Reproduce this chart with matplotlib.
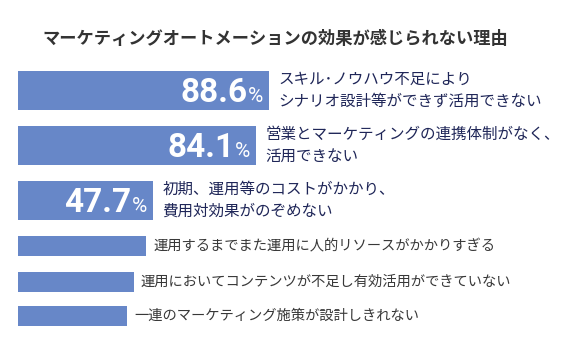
import matplotlib.pyplot as plt

plt.rcParams['font.family'] = ['Noto Sans CJK JP', 'DejaVu Sans']

title = "マーケティングオートメーションの効果が感じられない理由"
reasons = [
    "スキル･ノウハウ不足により\nシナリオ設計等ができず活用できない",
    "営業とマーケティングの連携体制がなく、\n活用できない",
    "初期、運用等のコストがかかり、\n費用対効果がのぞめない",
    "運用するまでまた運用に人的リソースがかかりすぎる",
    "運用においてコンテンツが不足し有効活用ができていない",
    "一連のマーケティング施策が設計しきれない",
]
shares = [88.6, 84.1, 47.7, 45.2, 40.9, 38.5]
show_value = [True, True, True, False, False, False]

BAR_COLOR = "#6787c8"
NAVY = "#1f2658"
GREY = "#383838"

W, H = 563, 342
PX_PER_PCT = 2.835
LEFT = 18

# vertical layout in pixels from the top: tall rows first, then thin rows
row_y = [90.5, 145.5, 200.5, 246, 282, 316]
row_h = [39, 39, 39, 20, 20, 20]

fig = plt.figure(figsize=(W / 100, H / 100), dpi=100)
ax = fig.add_axes([0, 0, 1, 1])
ax.set_xlim(-LEFT / PX_PER_PCT, (W - LEFT) / PX_PER_PCT)
ax.set_ylim(H, 0)
ax.axis("off")

ax.barh(row_y, shares, height=row_h, left=0, color=BAR_COLOR)

px = 1 / PX_PER_PCT
for y, v, label, big in zip(row_y, shares, reasons, show_value):
    if big:
        pct = ax.text(v - 6 * px, y + 11.5, "%", ha="right", va="baseline",
                      color="white", fontsize=15, family="Roboto")
        ax.annotate(f"{v:.1f}", xy=(0, y + 11.5), xycoords=(pct, "data"),
                    xytext=(-0.5, 0), textcoords="offset points",
                    ha="right", va="baseline", color="white",
                    fontsize=24, fontweight="bold", family="Roboto")
        ax.text(v + 9 * px, y, label, ha="left", va="center", color=NAVY,
                fontsize=11.2, linespacing=1.4)
    else:
        ax.text(v + 7 * px, y, label, ha="left", va="center", color=GREY,
                fontsize=10.3)

fig.text(275 / W, 1 - 38.5 / H, title, ha="center", va="center",
         fontsize=12.4, fontweight="bold", color="#333333")

fig.savefig("out.png", dpi=100)
